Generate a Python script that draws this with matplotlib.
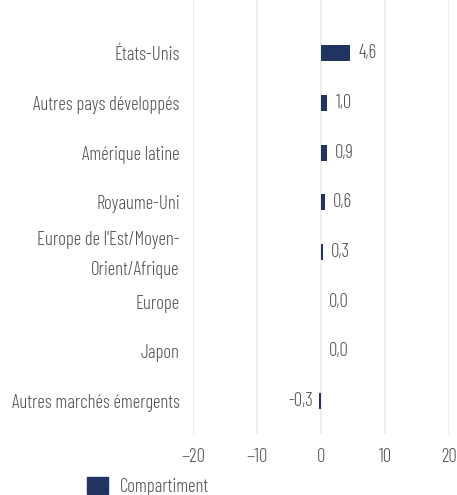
import matplotlib
matplotlib.use("Agg")
import matplotlib.pyplot as plt
import matplotlib.transforms as mtransforms
from matplotlib.patches import Patch

plt.rcParams['font.family'] = ['Barlow Condensed', 'Roboto Condensed', 'DejaVu Sans']
plt.rcParams['font.weight'] = 300

categories = ["États-Unis", "Autres pays développés", "Amérique latine", "Royaume-Uni",
              "Europe de l'Est/Moyen-\nOrient/Afrique", "Europe", "Japon",
              "Autres marchés émergents"]
values = [4.6, 1.0, 0.9, 0.6, 0.3, 0.0, 0.0, -0.3]
xticks = [-20, -10, 0, 10, 20]
series_name = "Compartiment"

bar_color = "#1f3461"
text_color = "#525252"
grid_color = "#ebebeb"
fs = 13.5

fig = plt.figure(figsize=(4.57, 4.95), dpi=100)
ax = fig.add_axes([193/457, 1-435/495, (449-193)/457, 435/495])

y = list(range(len(categories)))
ax.barh(y, values, height=0.32, color=bar_color, zorder=3)
ax.set_xlim(-20, 20)
ax.set_ylim(7.68, -1.07)
ax.set_xticks(xticks)
ax.set_xticklabels([str(t).replace('-', '\u2212') for t in xticks])
ax.set_yticks(y)
ax.set_yticklabels(categories, linespacing=1.85)
ax.tick_params(axis='both', length=0, labelsize=fs, colors=text_color)
ax.tick_params(axis='y', pad=9.5)
ax.tick_params(axis='x', pad=9)
for s in ax.spines.values():
    s.set_visible(False)
ax.grid(axis='x', color=grid_color, linewidth=1.2, zorder=0)
ax.set_axisbelow(True)

for lab in ax.get_yticklabels():
    if '\n' in lab.get_text():
        lab.set_transform(lab.get_transform() +
                          mtransforms.ScaledTranslation(0, 5/100, fig.dpi_scale_trans))

for yi, v in zip(y, values):
    lbl = f"{v:.1f}".replace('.', ',')
    if v < 0:
        ax.annotate(lbl, (v, yi), xytext=(-4.5, 0), textcoords='offset points',
                    ha='right', va='center', fontsize=fs, color=text_color)
    else:
        ax.annotate(lbl, (v, yi), xytext=(6, 0), textcoords='offset points',
                    ha='left', va='center', fontsize=fs, color=text_color)

fig.legend(handles=[Patch(color=bar_color, label=series_name)], loc='lower left',
           bbox_to_anchor=(70/457, -18/495), frameon=False, fontsize=fs,
           labelcolor=text_color, handlelength=1.1, handleheight=1.0, handletextpad=0.65)

fig.savefig("out.png", dpi=100)
